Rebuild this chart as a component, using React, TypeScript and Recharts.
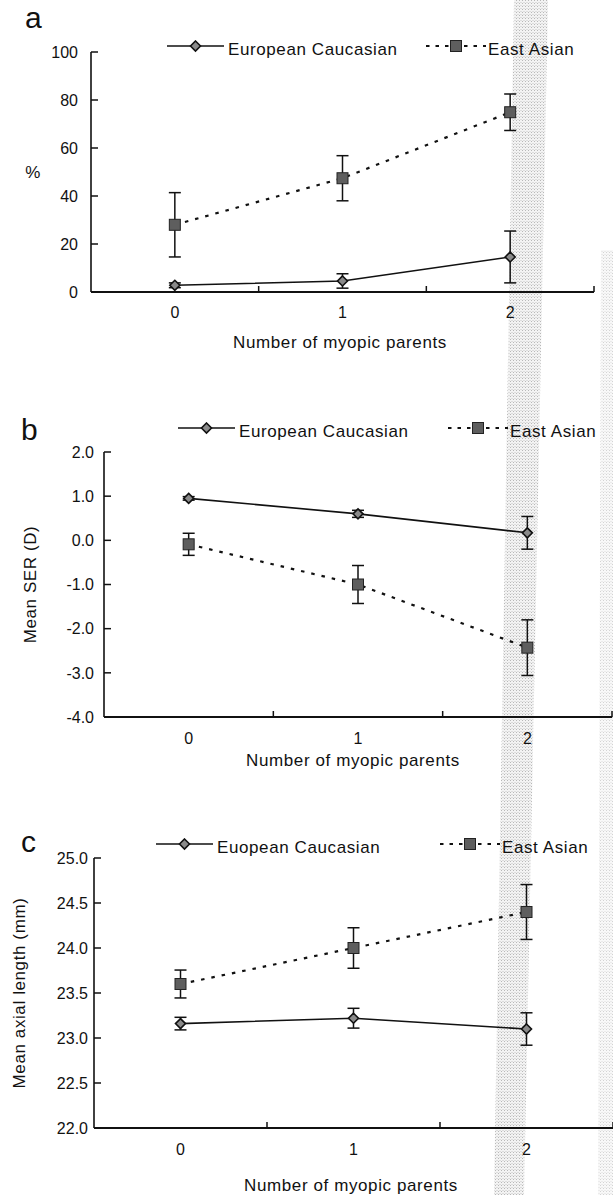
import React from 'react'
import { LineChart, Line, XAxis, YAxis, ErrorBar, ReferenceLine, Legend } from 'recharts'

const FONT = '"Liberation Sans", Arial, Helvetica, sans-serif'
const INK = '#111'

// number of myopic parents
const parents = [0, 1, 2]
const parentTicks = [0, 1, 2]
const bandEdges = [0.5, 1.5, 2.5]

// a: myopia prevalence (%)
const euroPct = [2.8, 4.6, 14.6]
const euroPctErr = [1.0, 3.0, 10.8]
const eastPct = [28.0, 47.4, 74.9]
const eastPctErr = [13.4, 9.4, 7.6]
const pctTicks = [0, 20, 40, 60, 80, 100]

// b: mean SER (D)
const euroSer = [0.95, 0.6, 0.17]
const euroSerErr = [0.04, 0.08, 0.37]
const eastSer = [-0.09, -1.0, -2.43]
const eastSerErr = [0.25, 0.43, 0.63]
const serTicks = [-4, -3, -2, -1, 0, 1, 2]

// c: mean axial length (mm)
const euroAxl = [23.16, 23.22, 23.1]
const euroAxlErr = [0.07, 0.11, 0.18]
const eastAxl = [23.6, 24.0, 24.4]
const eastAxlErr = [0.155, 0.225, 0.305]
const axlTicks = [22, 22.5, 23, 23.5, 24, 24.5, 25]

const xTitle = 'Number of myopic parents'

const panels = [
  {
    letter: 'a', pageTop: 0, height: 380,
    plotTop: 52, plotBottom: 292, plotLeft: 91, plotRight: 594,
    euro: euroPct, euroErr: euroPctErr, east: eastPct, eastErr: eastPctErr,
    ticks: pctTicks, fmt: (v: number) => String(v), yGap: 13,
    yTitle: '%', yTitleRotate: false, yTitleX: 33,
    xTickGap: 9, xTitleDy: 50, xTitleX: 340,
    euroName: 'European Caucasian', legendY: 50, euroLegendX: 167, eastLegendX: 426,
    letterX: 25, letterY: 28,
  },
  {
    letter: 'b', pageTop: 380, height: 410,
    plotTop: 72, plotBottom: 337, plotLeft: 104, plotRight: 612,
    euro: euroSer, euroErr: euroSerErr, east: eastSer, eastErr: eastSerErr,
    ticks: serTicks, fmt: (v: number) => v.toFixed(1), yGap: 10,
    yTitle: 'Mean SER (D)', yTitleRotate: true, yTitleX: 30,
    xTickGap: 10, xTitleDy: 43, xTitleX: 353,
    euroName: 'European Caucasian', legendY: 52, euroLegendX: 178, eastLegendX: 448,
    letterX: 21, letterY: 60,
  },
  {
    letter: 'c', pageTop: 790, height: 405,
    plotTop: 68, plotBottom: 338, plotLeft: 94, plotRight: 613,
    euro: euroAxl, euroErr: euroAxlErr, east: eastAxl, eastErr: eastAxlErr,
    ticks: axlTicks, fmt: (v: number) => v.toFixed(1), yGap: 6,
    yTitle: 'Mean axial length (mm)', yTitleRotate: true, yTitleX: 19,
    xTickGap: 10, xTitleDy: 57, xTitleX: 351,
    euroName: 'Euopean Caucasian', legendY: 58, euroLegendX: 156, eastLegendX: 440,
    letterX: 21, letterY: 62,
  },
]

function Diamond({ cx, cy }: { cx: number; cy: number }) {
  const r = 5
  return (
    <polygon
      points={`${cx},${cy - r} ${cx + r},${cy} ${cx},${cy + r} ${cx - r},${cy}`}
      fill="#8a8a8a"
      stroke={INK}
      strokeWidth={1.6}
    />
  )
}

function Square({ cx, cy }: { cx: number; cy: number }) {
  const r = 5.5
  return <rect x={cx - r} y={cy - r} width={2 * r} height={2 * r} fill="#5e5e5e" stroke="#222" strokeWidth={1} />
}

const textStyle = { fontFamily: FONT, fontSize: 17, letterSpacing: 0.6, fill: INK }

function LegendRow({ p, payload }: { p: any; payload?: any[] }) {
  const items = (payload || []).map((entry) => {
    const isEast = entry.dataKey === 'east'
    const iconW = isEast ? 60 : 57
    return (
      <div
        key={entry.dataKey}
        style={{
          position: 'absolute', top: 0, left: isEast ? p.eastLegendX : p.euroLegendX, height: 20,
          display: 'flex', alignItems: 'center', whiteSpace: 'nowrap',
        }}
      >
        <svg width={iconW} height={20} style={{ display: 'block' }}>
          <line
            x1={0} y1={6} x2={iconW} y2={6} stroke={INK}
            strokeWidth={isEast ? 2.2 : 1.6}
            strokeDasharray={isEast ? '3.5 6' : undefined}
          />
          {isEast ? <Square cx={iconW / 2} cy={6} /> : <Diamond cx={iconW / 2} cy={6} />}
        </svg>
        <span style={{ marginLeft: isEast ? 2 : 4, fontFamily: FONT, fontSize: 17, letterSpacing: 0.6, color: INK, lineHeight: '20px' }}>
          {entry.value}
        </span>
      </div>
    )
  })
  return <div style={{ position: 'relative', width: 613, height: 20 }}>{items}</div>
}

function Panel({ p }: { p: any }) {
  const rows = parents.map((x, i) => ({
    x,
    euro: p.euro[i],
    euroErr: p.euroErr[i],
    east: p.east[i],
    eastErr: p.eastErr[i],
  }))
  const lo = p.ticks[0]
  const hi = p.ticks[p.ticks.length - 1]
  const plotH = p.plotBottom - p.plotTop
  const tickLen = ((hi - lo) * 6) / plotH

  return (
    <div style={{ position: 'absolute', left: 0, top: p.pageTop, width: 613, height: p.height }}>
      <LineChart
        width={613}
        height={p.height}
        data={rows}
        margin={{ top: p.plotTop, right: 613 - p.plotRight, bottom: p.height - p.plotBottom - 60, left: 10 }}
      >
        <XAxis
          dataKey="x"
          type="number"
          domain={[-0.5, 2.5]}
          ticks={parentTicks}
          interval={0}
          height={60}
          tickLine={false}
          tickMargin={p.xTickGap}
          axisLine={{ stroke: INK, strokeWidth: 2 }}
          tick={{ fill: INK, fontSize: 16, fontFamily: FONT }}
        />
        <YAxis
          type="number"
          domain={[lo, hi]}
          ticks={p.ticks}
          interval={0}
          width={p.plotLeft - 10}
          tickSize={-7}
          tickMargin={p.yGap + 7}
          tickFormatter={p.fmt}
          tickLine={{ stroke: INK, strokeWidth: 1.5 }}
          axisLine={{ stroke: INK, strokeWidth: 1.6 }}
          tick={{ fill: INK, fontSize: 16, fontFamily: FONT }}
        />
        {bandEdges.map((e) => (
          <ReferenceLine
            key={e}
            segment={[{ x: e, y: lo }, { x: e, y: lo + tickLen }]}
            stroke={INK}
            strokeWidth={1.5}
          />
        ))}
        <Legend
          layout="horizontal"
          verticalAlign="middle"
          align="center"
          wrapperStyle={{ position: 'absolute', top: p.legendY - 10, left: 0, width: 613, height: 20, margin: 0 }}
          content={(props: any) => <LegendRow p={p} payload={props.payload} />}
        />
        <Line
          dataKey="euro"
          name={p.euroName}
          type="linear"
          stroke={INK}
          strokeWidth={1.6}
          isAnimationActive={false}
          activeDot={false}
          dot={(d: any) => <Diamond key={`eu${d.index}`} cx={d.cx} cy={d.cy} />}
        >
          <ErrorBar dataKey="euroErr" direction="y" width={6} stroke={INK} strokeWidth={1.5} isAnimationActive={false} />
        </Line>
        <Line
          dataKey="east"
          name="East Asian"
          type="linear"
          stroke={INK}
          strokeWidth={2.2}
          strokeDasharray="3.5 7"
          isAnimationActive={false}
          activeDot={false}
          dot={(d: any) => <Square key={`ea${d.index}`} cx={d.cx} cy={d.cy} />}
        >
          <ErrorBar dataKey="eastErr" direction="y" width={6} stroke={INK} strokeWidth={1.5} isAnimationActive={false} />
        </Line>
      </LineChart>
    </div>
  )
}

export default function App() {
  return (
    <div style={{ position: 'absolute', left: 0, top: 0, width: 613, height: 1195, background: '#fff', overflow: 'hidden' }}>
      {/* scanner shading band behind the figure */}
      <svg width={613} height={1195} style={{ position: 'absolute', left: 0, top: 0 }}>
        <defs>
          <pattern id="stipple" width={3} height={3} patternUnits="userSpaceOnUse">
            <rect width={3} height={3} fill="#f3f3f3" />
            <rect x={0} y={0} width={1} height={1} fill="#b8b8b8" />
            <rect x={1.5} y={2} width={1} height={1} fill="#c8c8c8" />
          </pattern>
        </defs>
        <polygon points="514,0 548,0 524,1195 494,1195" fill="url(#stipple)" />
        <polygon points="601,250 613,250 613,1195 598,1195" fill="url(#stipple)" opacity={0.6} />
      </svg>
      {panels.map((p) => (
        <Panel key={p.letter} p={p} />
      ))}
      <svg width={613} height={1195} style={{ position: 'absolute', left: 0, top: 0, pointerEvents: 'none' }}>
        {panels.map((p) => {
          const yMid = p.pageTop + (p.plotTop + p.plotBottom) / 2
          return (
            <g key={p.letter}>
              <text x={p.letterX} y={p.pageTop + p.letterY} fontFamily={FONT} fontSize={30} fill={INK}>
                {p.letter}
              </text>
              <text
                x={p.xTitleX}
                y={p.pageTop + p.plotBottom + p.xTitleDy}
                textAnchor="middle"
                dominantBaseline="central"
                style={textStyle}
              >
                {xTitle}
              </text>
              <text
                x={p.yTitleX}
                y={yMid}
                textAnchor="middle"
                dominantBaseline="central"
                transform={p.yTitleRotate ? `rotate(-90 ${p.yTitleX} ${yMid})` : undefined}
                style={textStyle}
              >
                {p.yTitle}
              </text>
            </g>
          )
        })}
      </svg>
    </div>
  )
}
